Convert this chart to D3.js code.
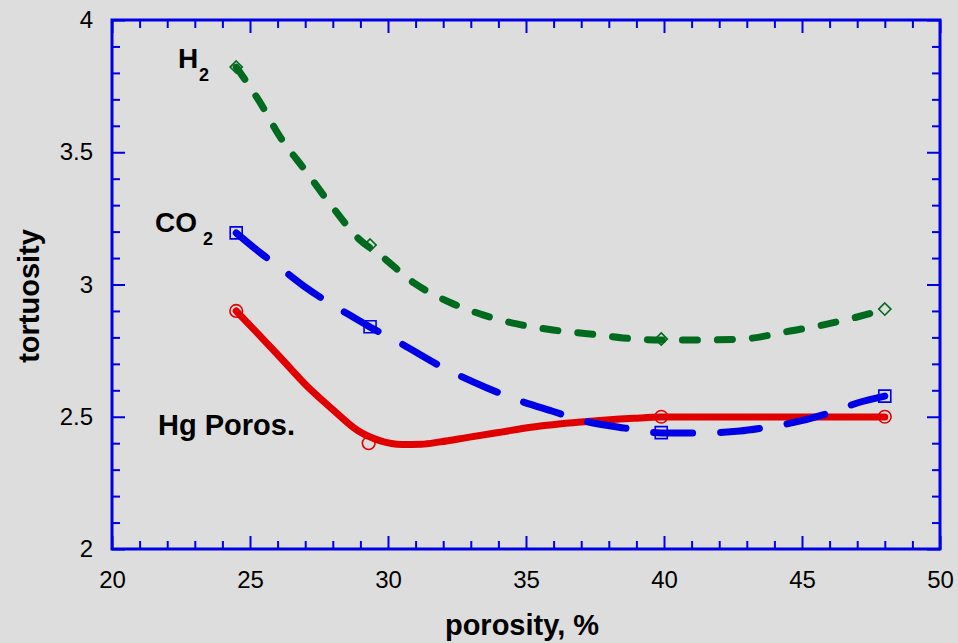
<!DOCTYPE html>
<html>
<head>
<meta charset="utf-8">
<script src="https://cdn.jsdelivr.net/npm/d3@7"></script>
<style>
  html, body { margin: 0; padding: 0; background: #dddddd; }
  svg { display: block; font-family: Arial, "Liberation Sans", sans-serif; }
</style>
</head>
<body>
<div id="chart"></div>
<script>
// marker values (porosity, tortuosity)
const hgPoints = [[24.5, 2.9], [29.3, 2.4], [39.9, 2.5], [48, 2.5]];
const co2Points = [[24.5, 3.195], [29.35, 2.84], [39.9, 2.44], [48, 2.578]];
const h2Points = [[24.5, 3.822], [29.35, 3.149], [39.9, 2.794], [48, 2.907]];

// fitted curves
const hgCurve = [[24.5, 2.9], [25.25, 2.818], [26.1, 2.724], [27.07, 2.615], [28.0, 2.527],
  [28.9, 2.448], [29.7, 2.41], [30.5, 2.395], [31.2, 2.396], [31.9, 2.405], [32.9, 2.422],
  [34.1, 2.442], [35.25, 2.461], [37.0, 2.48], [38.9, 2.494], [39.9, 2.499], [48, 2.499]];
const co2Curve = [[24.5, 3.195], [25.47, 3.112], [26.01, 3.07], [26.99, 2.991], [28.55, 2.888],
  [29.35, 2.839], [30.43, 2.779], [31.96, 2.688], [33.59, 2.609], [34.49, 2.571], [36.05, 2.518],
  [36.96, 2.488], [38.59, 2.457], [39.9, 2.439], [41.3, 2.439], [42.75, 2.446], [43.55, 2.457],
  [44.46, 2.473], [46.09, 2.518], [47.0, 2.552], [48, 2.578]];
const h2Curve = [[24.5, 3.822], [25.33, 3.694], [26.09, 3.558], [26.99, 3.433], [27.93, 3.301],
  [28.99, 3.168], [29.71, 3.112], [30.98, 3.003], [32.25, 2.932], [33.44, 2.885], [34.67, 2.851],
  [35.98, 2.828], [37.32, 2.813], [38.51, 2.798], [39.9, 2.79], [41.3, 2.79], [42.86, 2.794],
  [44.57, 2.824], [45.94, 2.851], [47.28, 2.885], [48, 2.907]];

const xMajor = [20, 25, 30, 35, 40, 45, 50];
const yMajor = [2, 2.5, 3, 3.5, 4];
const yLabels = ["2", "2.5", "3", "3.5", "4"];

const width = 958, height = 643;
const margin = { top: 20, right: 18, bottom: 94, left: 112 };
const innerW = width - margin.left - margin.right;
const innerH = height - margin.top - margin.bottom;

const x = d3.scaleLinear().domain([20, 50]).range([0, innerW]);
const y = d3.scaleLinear().domain([2, 4]).range([innerH, 0]);

const xMinor = d3.range(20, 50.01, 1).filter(v => v % 5 !== 0);
const yMinor = d3.range(20, 40.01, 1).filter(v => v % 5 !== 0).map(v => v / 10);

const blue = "#0000e6";
const red = "#e00000", green = "#006a1f";

const svg = d3.select("#chart").append("svg")
    .attr("width", width)
    .attr("height", height);

svg.append("rect").attr("width", width).attr("height", height).attr("fill", "#dddddd");

const g = svg.append("g").attr("transform", `translate(${margin.left},${margin.top})`);

// ticks, all pointing inward
function tickAxis(axis, values, size, pos, fmt, pad) {
    const a = g.append("g")
        .attr("transform", pos)
        .call(axis.tickValues(values).tickSizeInner(-size).tickSizeOuter(0)
            .tickPadding(pad || 0).tickFormat(fmt || (() => "")));
    a.select(".domain").remove();
    a.selectAll("line").attr("stroke", blue).attr("stroke-width", 2);
    a.selectAll("text").attr("fill", "#000").style("font-size", "24px");
    return a;
}

tickAxis(d3.axisBottom(x), xMinor, 8, `translate(0,${innerH})`);
tickAxis(d3.axisBottom(x), xMajor, 13, `translate(0,${innerH})`, d => d, 22);
tickAxis(d3.axisTop(x), xMinor, 8, "translate(0,0)");
tickAxis(d3.axisTop(x), xMajor, 13, "translate(0,0)");
tickAxis(d3.axisLeft(y), yMinor, 8, "translate(0,0)");
tickAxis(d3.axisLeft(y), yMajor, 13, "translate(0,0)", (d, i) => yLabels[i], 19);
tickAxis(d3.axisRight(y), yMinor, 8, `translate(${innerW},0)`);
tickAxis(d3.axisRight(y), yMajor, 13, `translate(${innerW},0)`);

// frame
g.append("rect")
    .attr("width", innerW)
    .attr("height", innerH)
    .attr("fill", "none")
    .attr("stroke", blue)
    .attr("stroke-width", 3);

// markers (hollow)
function drawMarkers(data, shape, area, color) {
    g.append("g").selectAll("path").data(data).enter().append("path")
        .attr("transform", d => `translate(${x(d[0])},${y(d[1])})`)
        .attr("d", d3.symbol().type(shape).size(area)())
        .attr("fill", "none")
        .attr("stroke", color)
        .attr("stroke-width", 1.6);
}

const line = d3.line()
    .x(d => x(d[0]))
    .y(d => y(d[1]))
    .curve(d3.curveMonotoneX);

function drawCurve(data, color, dash) {
    g.append("path")
        .datum(data)
        .attr("d", line)
        .attr("fill", "none")
        .attr("stroke", color)
        .attr("stroke-width", 7)
        .attr("stroke-linecap", "round")
        .attr("stroke-linejoin", "round")
        .attr("stroke-dasharray", dash);
}

drawMarkers(hgPoints, d3.symbolCircle, 125, red);
drawMarkers(co2Points, d3.symbolSquare, 144, blue);
drawMarkers(h2Points, d3.symbolDiamond2, 95, green);

drawCurve(hgCurve, red, "none");
drawCurve(co2Curve, blue, "39,28");
drawCurve(h2Curve, green, "15,20");

// series labels
const lab = svg.append("g").attr("fill", "#000").style("font-weight", "bold");
lab.append("text").attr("x", 178).attr("y", 68).style("font-size", "28px").text("H");
lab.append("text").attr("x", 199).attr("y", 81).style("font-size", "18px").text("2");
lab.append("text").attr("x", 155).attr("y", 232).style("font-size", "28px").text("CO");
lab.append("text").attr("x", 203).attr("y", 245).style("font-size", "18px").text("2");
lab.append("text").attr("x", 158).attr("y", 435).style("font-size", "29px").text("Hg Poros.");

// axis titles
svg.append("text")
    .attr("x", 522)
    .attr("y", 635)
    .attr("text-anchor", "middle")
    .style("font-size", "29px")
    .style("font-weight", "bold")
    .text("porosity, %");

svg.append("text")
    .attr("transform", "translate(39,296) rotate(-90)")
    .attr("text-anchor", "middle")
    .style("font-size", "29px")
    .style("font-weight", "bold")
    .text("tortuosity");
</script>
</body>
</html>
